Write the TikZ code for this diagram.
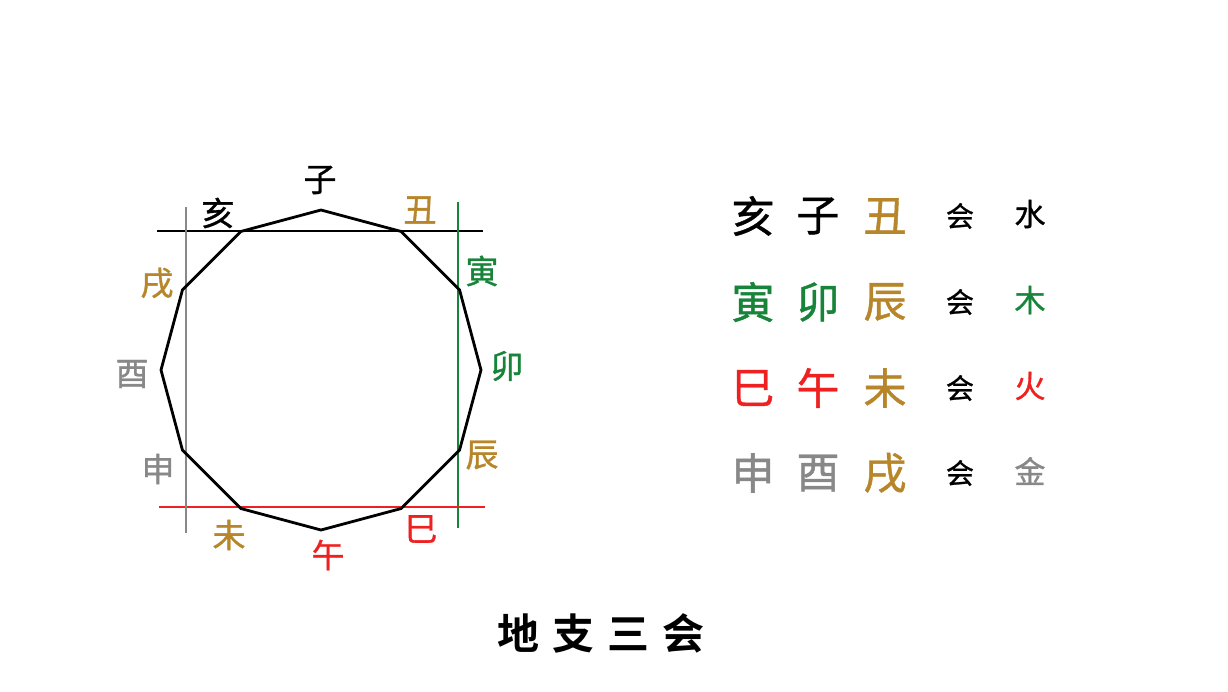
\documentclass[tikz,border=0pt]{standalone}
\usepackage{fontspec}
\newfontfamily\cjk[FakeBold=1.0]{Noto Sans CJK SC}
\newfontfamily\cjkb{Noto Sans CJK SC Bold}
\definecolor{gold}{HTML}{B8862A}
\definecolor{grn}{HTML}{17843A}
\definecolor{rd}{HTML}{EE2020}
\definecolor{gry}{HTML}{888888}
\begin{document}
\begin{tikzpicture}[x=1pt,y=-1pt,
  lab/.style={inner sep=0pt,font=\cjk\fontsize{33}{33}\selectfont},
  big/.style={inner sep=0pt,font=\cjk\fontsize{43}{43}\selectfont},
  hui/.style={inner sep=0pt,font=\cjk\fontsize{28}{28}\selectfont},
  elem/.style={inner sep=0pt,font=\cjk\fontsize{31}{31}\selectfont},
  guide/.style={line width=1.3pt}]
\fill[white] (0,0) rectangle (1228,691);
\useasboundingbox (0,0) rectangle (1228,691);
% dodecagon vertices (0 = top, clockwise)
\foreach \i in {0,...,11}{
  \coordinate (v\i) at ({321+160*sin(30*\i)},{370-160*cos(30*\i)});
}
% guide line ends
\coordinate (hA) at (157,231); \coordinate (hB) at (483,231);
\coordinate (gA) at (458,202); \coordinate (gB) at (458,528);
\coordinate (rA) at (159,507); \coordinate (rB) at (485,507);
\coordinate (yA) at (186,207); \coordinate (yB) at (186,533);
\draw[guide,black] (hA) -- (hB);
\draw[guide,grn] (gA) -- (gB);
\draw[guide,rd] (rA) -- (rB);
\draw[guide,gry] (yA) -- (yB);
\draw[line width=2.8pt,line join=miter] (v0) -- (v1) -- (v2) -- (v3) -- (v4) -- (v5) -- (v6) -- (v7) -- (v8) -- (v9) -- (v10) -- (v11) -- cycle;
% labels
\node[lab,text=black] (lzi) at (320,180) {子};
\node[lab,text=gold] (lchou) at (420,210) {丑};
\node[lab,text=grn] (lyin) at (482,271) {寅};
\node[lab,text=grn] (lmao) at (507,366) {卯};
\node[lab,text=gold] (lchen) at (482,455) {辰};
\node[lab,text=rd] (lsi) at (421,529) {巳};
\node[lab,text=rd] (lwu) at (328,555) {午};
\node[lab,text=gold] (lwei) at (229,535) {未};
\node[lab,text=gry] (lshen) at (158,469) {申};
\node[lab,text=gry] (lyou) at (132,374) {酉};
\node[lab,text=gold] (lxu) at (157,283) {戌};
\node[lab,text=black] (lhai) at (218,213) {亥};
% table
\node[big,text=black] (t11) at (753,216) {亥};
\node[big,text=black] (t12) at (818,216) {子};
\node[big,text=gold] (t13) at (885,216) {丑};
\node[hui] (t14) at (960,216) {会};
\node[elem,text=black] (t15) at (1030,214) {水};
\node[big,text=grn] (t21) at (753,302) {寅};
\node[big,text=grn] (t22) at (818,302) {卯};
\node[big,text=gold] (t23) at (885,302) {辰};
\node[hui] (t24) at (960,302) {会};
\node[elem,text=grn] (t25) at (1030,300) {木};
\node[big,text=rd] (t31) at (753,388) {巳};
\node[big,text=rd] (t32) at (818,388) {午};
\node[big,text=gold] (t33) at (885,388) {未};
\node[hui] (t34) at (960,388) {会};
\node[elem,text=rd] (t35) at (1030,386) {火};
\node[big,text=gry] (t41) at (753,473) {申};
\node[big,text=gry] (t42) at (818,473) {酉};
\node[big,text=gold] (t43) at (885,473) {戌};
\node[hui] (t44) at (960,473) {会};
\node[elem,text=gry] (t45) at (1030,471) {金};
% title
\node[inner sep=0pt,font=\cjkb\fontsize{42}{42}\selectfont] (title) at (601,633) {地\hspace{13pt}支\hspace{13pt}三\hspace{13pt}会};
\end{tikzpicture}
\end{document}
